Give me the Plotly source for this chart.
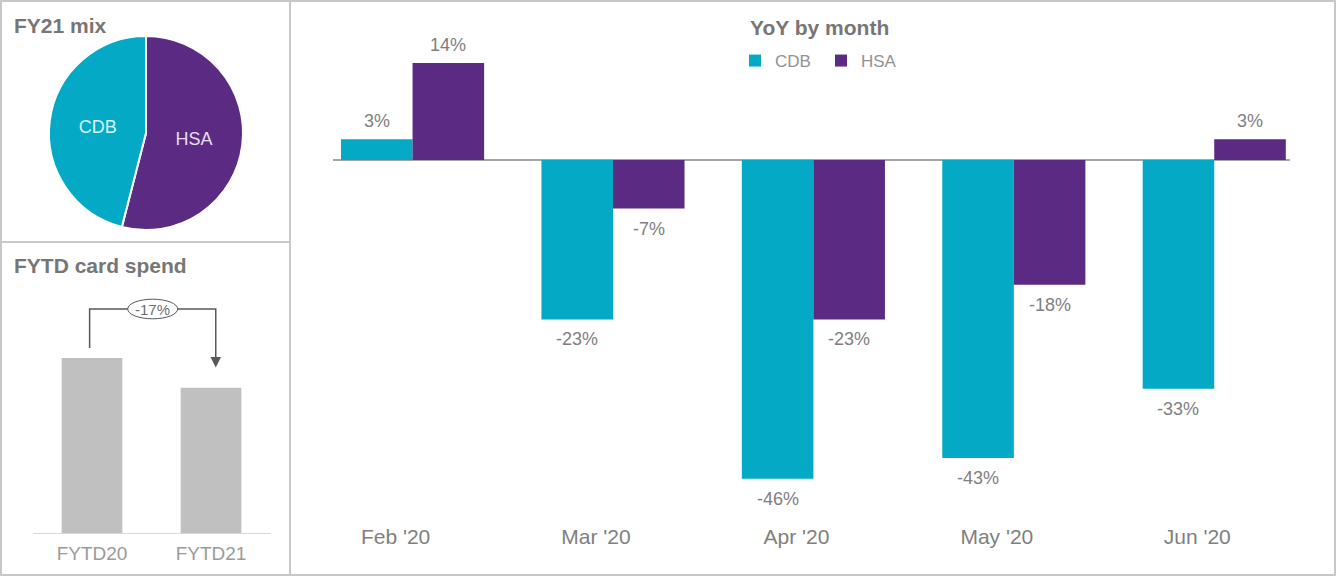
import plotly.graph_objects as go

W, H = 1336, 576

# ---------------- data ----------------
months = ["Feb '20", "Mar '20", "Apr '20", "May '20", "Jun '20"]
cdb_yoy = [3, -23, -46, -43, -33]
hsa_yoy = [14, -7, -23, -18, 3]

mix_labels = ["HSA", "CDB"]
mix_values = [54, 46]

fytd_labels = ["FYTD20", "FYTD21"]
fytd_values = [100, 83]

CDB_COLOR = "#03A9C5"
HSA_COLOR = "#5B2B84"
GRAY_TXT = "#808080"
TITLE_TXT = "#767676"
FONT = "Liberation Sans, Arial, sans-serif"
BARGAP = 0.286


def px_x(p):
    return p / W


def px_y(p):
    return 1 - p / H


fig = go.Figure()

# ---------------- main bar chart ----------------
series = [("CDB", cdb_yoy, CDB_COLOR), ("HSA", hsa_yoy, HSA_COLOR)]
for name, vals, col in series:
    fig.add_trace(go.Bar(
        x=months, y=vals, name=name, marker=dict(color=col, line=dict(width=0)),
        xaxis="x", yaxis="y",
    ))

# value labels, placed outside each bar end
bar_w = (1 - BARGAP) / len(series)
for k, (name, vals, col) in enumerate(series):
    off = -(1 - BARGAP) / 2 + bar_w * (k + 0.5)
    for i, v in enumerate(vals):
        fig.add_annotation(
            x=i + off, y=v, xref="x", yref="y", text=f"{v}%", showarrow=False,
            yanchor="middle", yshift=18 if v >= 0 else -20,
            font=dict(size=18, color=GRAY_TXT, family=FONT),
        )

# ---------------- pie ----------------
fig.add_trace(go.Pie(
    labels=mix_labels, values=mix_values, sort=False, direction="clockwise", rotation=0,
    marker=dict(colors=[HSA_COLOR, CDB_COLOR], line=dict(color="white", width=2)),
    textinfo="label", textposition="inside",
    insidetextfont=dict(size=18, color=["#E8DDF2", "#D8F4FA"], family=FONT),
    showlegend=False, hoverinfo="label+percent",
    domain=dict(x=[px_x(49), px_x(243)], y=[px_y(230), px_y(36)]),
))

# ---------------- FYTD bars ----------------
fig.add_trace(go.Bar(
    x=fytd_labels, y=fytd_values, marker=dict(color="#C0C0C0", line=dict(width=0)),
    showlegend=False, xaxis="x2", yaxis="y2", width=0.51,
))

# axis geometry (main)
y_lo, y_hi = -52, 20
zero_px, per = 160, 6.93
fig.update_layout(
    width=W, height=H,
    margin=dict(l=0, r=0, t=0, b=0),
    paper_bgcolor="white", plot_bgcolor="rgba(0,0,0,0)",
    font=dict(family=FONT, color=GRAY_TXT),
    barmode="group", bargap=BARGAP, bargroupgap=0,
    xaxis=dict(
        domain=[px_x(333), px_x(1290)], range=[-0.397, 4.378],
        showgrid=False, showline=False, zeroline=False, ticks="",
        tickfont=dict(size=21, color=GRAY_TXT, family=FONT),
        ticklabelshift=-17, ticklabelstandoff=2, fixedrange=True,
    ),
    yaxis=dict(
        domain=[px_y(zero_px - y_lo * per), px_y(zero_px - y_hi * per)],
        range=[y_lo, y_hi], showgrid=False, showticklabels=False,
        zeroline=True, zerolinecolor="#A6A6A6", zerolinewidth=1.5, showline=False,
    ),
    xaxis2=dict(
        domain=[px_x(32.5), px_x(270.5)], range=[-0.5, 1.5], anchor="y2",
        showgrid=False, showline=True, linecolor="#D9D9D9", linewidth=1, ticks="",
        tickfont=dict(size=19, color="#9A9A9A", family=FONT), ticklabelstandoff=3,
    ),
    yaxis2=dict(
        domain=[px_y(533), px_y(533 - 145 * 1.75)], range=[0, 145], anchor="x2",
        showgrid=False, showticklabels=False, zeroline=False, showline=False,
    ),
    legend=dict(
        orientation="h", x=px_x(735), y=px_y(43), xanchor="left", yanchor="top",
        font=dict(size=17, color="#929292", family=FONT), itemwidth=30,
        entrywidth=41, entrywidthmode="pixels",
        bgcolor="rgba(0,0,0,0)", traceorder="normal",
    ),
)

# ---------------- bracket with change label ----------------
top_y = max(fytd_values) * 1.28
left_start = fytd_values[0] * 1.057
arrow_tip = fytd_values[1] * 1.14
change = (fytd_values[1] - fytd_values[0]) / fytd_values[0] * 100
fig.add_shape(type="path", xref="x2", yref="y2",
              path=f"M -0.02,{left_start} V {top_y} H 1.04 V {arrow_tip + 6}",
              line=dict(color="#595959", width=1.5))
fig.add_annotation(x=1.04, y=arrow_tip, ax=1.04, ay=arrow_tip + 7, xref="x2", yref="y2",
                   axref="x2", ayref="y2", showarrow=True, arrowhead=2, arrowsize=1.4,
                   arrowwidth=1.5, arrowcolor="#595959", text="")
fig.add_shape(type="circle", xref="x2", yref="y2",
              x0=0.30, x1=0.72, y0=top_y - 5.6, y1=top_y + 5.6,
              line=dict(color="#595959", width=1), fillcolor="white")
fig.add_annotation(x=0.51, y=top_y, xref="x2", yref="y2", text=f"{change:.0f}%",
                   showarrow=False, font=dict(size=15, color="#6E6E6E", family=FONT))

# ---------------- titles ----------------
for txt, x, y, anchor in [("FY21 mix", 12, 26, "left"),
                          ("FYTD card spend", 12, 265, "left"),
                          ("YoY by month", 819, 27, "center")]:
    fig.add_annotation(x=px_x(x), y=px_y(y), xref="paper", yref="paper",
                       xanchor=anchor, yanchor="middle", showarrow=False,
                       text=f"<b>{txt}</b>",
                       font=dict(size=21, color=TITLE_TXT, family=FONT))

# ---------------- panel borders ----------------
border = dict(color="#C8C8C8", width=2)
fig.add_shape(type="rect", xref="paper", yref="paper",
              x0=px_x(1), x1=px_x(1335), y0=px_y(575), y1=px_y(1), line=border)
fig.add_shape(type="line", xref="paper", yref="paper",
              x0=px_x(290), x1=px_x(290), y0=px_y(575), y1=px_y(1), line=border)
fig.add_shape(type="line", xref="paper", yref="paper",
              x0=px_x(1), x1=px_x(290), y0=px_y(242), y1=px_y(242), line=border)

fig.write_html("out.html")
